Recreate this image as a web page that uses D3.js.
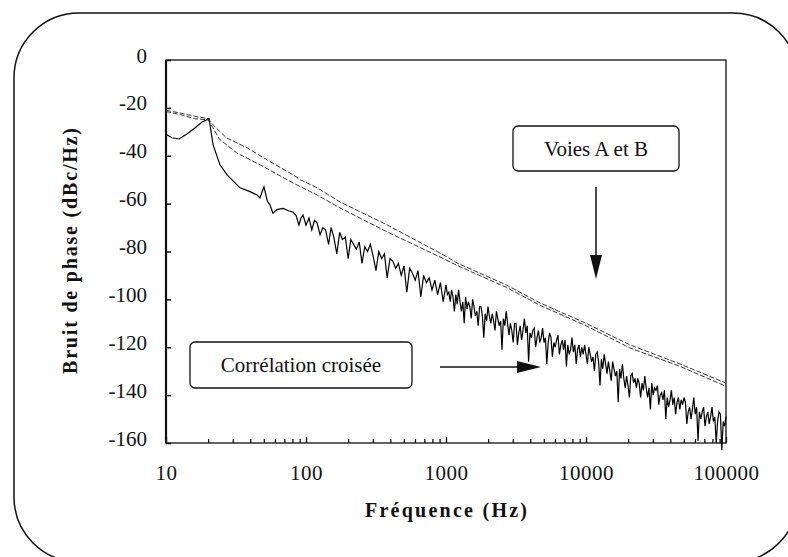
<!DOCTYPE html>
<html lang="fr">
<head>
<meta charset="UTF-8">
<title>Bruit de phase</title>
<script src="https://d3js.org/d3.v7.min.js"></script>
<style>
  body { margin: 0; background: #fff; }
  svg { display: block; }
</style>
</head>
<body>
<svg id="chart"></svg>
<script>
// values
const xTicks = [10, 100, 1000, 10000, 100000];
const yTicks = [0, -20, -40, -60, -80, -100, -120, -140, -160];

const voieA = [[10,-21],[13,-22.3],[16,-23.5],[20,-24.5],[22,-27.5],[27,-32.5],[38,-36.7],[53,-41.8],
  [81,-48],[91,-50],[120,-53.4],[175,-59.3],[380,-68.9],[1000,-82],[1200,-84.8],[2700,-94],
  [4700,-101.5],[10000,-110],[20600,-119],[47000,-127],[100000,-135]];

const voieB = [[10,-21.5],[13,-23],[16,-24.5],[20,-25],[22,-29],[24,-33],[32,-38.8],[47,-43.8],
  [81,-51.4],[120,-56.4],[175,-61.8],[380,-71.8],[1000,-83.5],[1200,-85.8],[2700,-95],
  [4700,-102.5],[10000,-111],[20600,-120.3],[47000,-128],[100000,-136.3]];

// cross-correlation, below 1 kHz
const crossLowFreq = [10,11,12.4,14,16,18,20.3,21.7,24.3,27.3,33.8,39.8,44.7,46.9,50.1,53,55.3,58.1,62,68.5,
  75,80.7,85,89.1,92,95.2,100,105,110,115,
  120,126,132,138,145,151,158,166,174,182,191,200,
  209,219,229,240,251,263,275,288,302,316,331,347,363,380,398,
  417,437,457,479,501,525,550,575,603,631,661,692,724,759,794,
  832,871,912,955];
const crossLowDb = [-31,-32.5,-33,-31,-28.5,-26,-24.5,-35.5,-43.8,-48,-53.4,-55,-56.4,-57.6,-53,-59,-60.5,-64,-62.5,-62,
  -63,-63.5,-65,-69,-66,-64.7,-69,-66,-71,-67,
  -68,-73,-70,-71,-77,-70,-74,-81,-72,-75,-74,-83,
  -75,-77,-79,-76,-85,-78,-80,-77,-82,-88,-80,-83,-81,-91,-83,
  -84,-87,-85,-90,-86,-97,-87,-89,-92,-88,-99,-90,-93,-91,-96,
  -92,-98,-93,-101];

// cross-correlation, 1 kHz to 100 kHz
const crossHighFreq = [
  1000,1023,1047,1072,1096,1122,1148,1175,1202,1230,1259,1288,1318,1349,1380,1413,1445,1479,1514,1549,
  1585,1622,1660,1698,1738,1778,1820,1862,1905,1950,1995,2042,2089,2138,2188,2239,2291,2344,2399,2455,
  2512,2570,2630,2692,2754,2818,2884,2951,3020,3090,3162,3236,3311,3388,3467,3548,3631,3715,3802,3890,
  3981,4074,4169,4266,4365,4467,4571,4677,4786,4898,5012,5129,5248,5370,5495,5623,5754,5888,6026,6166,
  6310,6457,6607,6761,6918,7079,7244,7413,7586,7762,7943,8128,8318,8511,8710,8913,9120,9333,9550,9772,
  10000,10230,10470,10720,10960,11220,11480,11750,12020,12300,12590,12880,13180,13490,13800,14130,14450,14790,15140,15490,
  15850,16220,16600,16980,17380,17780,18200,18620,19050,19500,19950,20420,20890,21380,21880,22390,22910,23440,23990,24550,
  25120,25700,26300,26920,27540,28180,28840,29510,30200,30900,31620,32360,33110,33880,34670,35480,36310,37150,38020,38900,
  39810,40740,41690,42660,43650,44670,45710,46770,47860,48980,50120,51290,52480,53700,54950,56230,57540,58880,60260,61660,
  63100,64570,66070,67610,69180,70790,72440,74130,75860,77620,79430,81280,83180,85110,87100,89130,91200,93330,95500,97720,
  100000];
const crossHighDb = [
  -94,-98,-97,-101,-96,-99,-105,-98,-102,-96,-101,-105,-101,-110,-99,-104,-101,-103,-108,-100,
  -103,-107,-105,-111,-103,-103,-107,-116,-106,-109,-103,-107,-110,-106,-109,-113,-105,-108,-111,-109,
  -121,-108,-111,-105,-110,-115,-110,-113,-118,-110,-110,-119,-114,-111,-117,-113,-108,-114,-111,-126,
  -114,-116,-113,-112,-120,-116,-113,-118,-116,-112,-118,-116,-127,-118,-114,-116,-124,-118,-120,-117,
  -115,-123,-119,-117,-121,-117,-128,-119,-123,-121,-116,-122,-119,-127,-121,-119,-124,-120,-123,-119,
  -123,-127,-120,-123,-126,-124,-130,-123,-122,-126,-136,-125,-129,-123,-127,-131,-126,-130,-134,-126,
  -129,-132,-130,-143,-129,-133,-127,-133,-137,-132,-136,-141,-132,-131,-135,-133,-137,-133,-135,-141,
  -135,-138,-132,-137,-141,-137,-146,-135,-140,-137,-138,-136,-144,-140,-139,-142,-138,-150,-141,-145,
  -142,-138,-144,-141,-148,-143,-141,-146,-142,-144,-141,-143,-152,-147,-145,-150,-146,-141,-148,-145,
  -159,-147,-150,-147,-145,-153,-149,-147,-152,-149,-145,-151,-149,-160,-151,-147,-148,-163,-151,-153,
  -149];

const W = 788, H = 557;
const plot = { left: 166, top: 60, right: 726, bottom: 443 };
const serif = "'Liberation Serif', 'Times New Roman', 'DejaVu Serif', 'Noto Serif', serif";

const svg = d3.select("#chart").attr("width", W).attr("height", H)
  .attr("font-family", serif);

// rounded outer frame
svg.append("rect")
  .attr("x", 14).attr("y", 13).attr("width", 784).attr("height", 549)
  .attr("rx", 65).attr("ry", 65)
  .attr("fill", "none").attr("stroke", "#111").attr("stroke-width", 1.5);

const x = d3.scaleLog().domain([10, 100000]).range([plot.left, plot.right]);
const y = d3.scaleLinear().domain([-160, 0]).range([plot.bottom, plot.top]);

// plot box
svg.append("rect")
  .attr("x", plot.left).attr("y", plot.top)
  .attr("width", plot.right - plot.left).attr("height", plot.bottom - plot.top)
  .attr("fill", "none").attr("stroke", "#111").attr("stroke-width", 1.3);
svg.append("line")
  .attr("x1", plot.left).attr("x2", plot.left).attr("y1", plot.top).attr("y2", plot.bottom)
  .attr("stroke", "#111").attr("stroke-width", 2.2);

// y axis, ticks inward
const yAxis = svg.append("g")
  .attr("transform", `translate(${plot.left},0)`)
  .call(d3.axisLeft(y).tickValues(yTicks).tickSize(-5).tickPadding(19).tickFormat(d => d));
yAxis.attr("font-family", null).attr("font-size", null);
yAxis.select(".domain").remove();
yAxis.selectAll("line").attr("stroke", "#111").attr("stroke-width", 1.5);
yAxis.selectAll("text")
  .attr("dy", "0.1em")
  .style("font-size", "21px")
  .style("font-family", serif)
  .attr("fill", "#111");

// x axis, major + minor ticks inward
const minor = [];
xTicks.slice(0, -1).forEach(d => { for (let k = 2; k < 10; k++) minor.push(d * k); });

const xMinor = svg.append("g")
  .attr("transform", `translate(0,${plot.bottom})`)
  .call(d3.axisBottom(x).tickValues(minor).tickSize(-4).tickFormat(""));
xMinor.select(".domain").remove();
xMinor.selectAll("line").attr("stroke", "#111").attr("stroke-width", 1.3);

const xAxis = svg.append("g")
  .attr("transform", `translate(0,${plot.bottom})`)
  .call(d3.axisBottom(x).tickValues(xTicks).tickSize(-6).tickPadding(22).tickFormat(d3.format("d")));
xAxis.attr("font-family", null).attr("font-size", null);
xAxis.select(".domain").remove();
xAxis.selectAll("line").attr("stroke", "#111").attr("stroke-width", 1.3);
xAxis.selectAll("text")
  .style("font-size", "21px")
  .style("font-family", serif)
  .style("letter-spacing", "0.5px")
  .attr("fill", "#111");

// axis titles
svg.append("text")
  .attr("x", 446).attr("y", 517)
  .attr("text-anchor", "middle")
  .attr("textLength", 162)
  .style("font-size", "20px").style("font-weight", "bold")
  .attr("fill", "#111")
  .text("Fréquence (Hz)");

svg.append("text")
  .attr("transform", "translate(77,251) rotate(-90)")
  .attr("text-anchor", "middle")
  .attr("textLength", 246)
  .style("font-size", "20px").style("font-weight", "bold")
  .attr("fill", "#111")
  .text("Bruit de phase (dBc/Hz)");

// curves
const line = d3.line().x(d => x(d[0])).y(d => y(d[1]));

const crossLow = crossLowFreq.map((f, i) => [f, crossLowDb[i]]);
const crossHigh = crossHighFreq.map((f, i) => [f, crossHighDb[i]]);

svg.append("path")
  .datum(crossLow.concat(crossHigh))
  .attr("d", line)
  .attr("fill", "none").attr("stroke", "#000").attr("stroke-width", 1.2);

[voieA, voieB].forEach(s => {
  svg.append("path")
    .datum(s)
    .attr("d", line)
    .attr("fill", "none").attr("stroke", "#333").attr("stroke-width", 1)
    .attr("stroke-dasharray", "5,2");
});

// annotation boxes
function noteBox(bx, by, bw, bh, label) {
  svg.append("rect")
    .attr("x", bx).attr("y", by).attr("width", bw).attr("height", bh)
    .attr("rx", 5).attr("fill", "#fff").attr("stroke", "#111").attr("stroke-width", 1.3);
  svg.append("text")
    .attr("x", bx + bw / 2).attr("y", by + bh / 2 + 7)
    .attr("text-anchor", "middle")
    .style("font-size", "21px")
    .attr("fill", "#111")
    .text(label);
}
noteBox(513, 126, 166, 45, "Voies A et B");
noteBox(190, 342, 222, 46, "Corrélation croisée");

// arrows
svg.append("line").attr("x1", 596).attr("x2", 596).attr("y1", 187).attr("y2", 258)
  .attr("stroke", "#111").attr("stroke-width", 1.5);
svg.append("path").attr("d", "M590,255 L602,255 L596,279 Z").attr("fill", "#111");

svg.append("line").attr("x1", 440).attr("x2", 520).attr("y1", 367).attr("y2", 367)
  .attr("stroke", "#111").attr("stroke-width", 1.5);
svg.append("path").attr("d", "M517,361 L517,373 L541,367 Z").attr("fill", "#111");
</script>
</body>
</html>
